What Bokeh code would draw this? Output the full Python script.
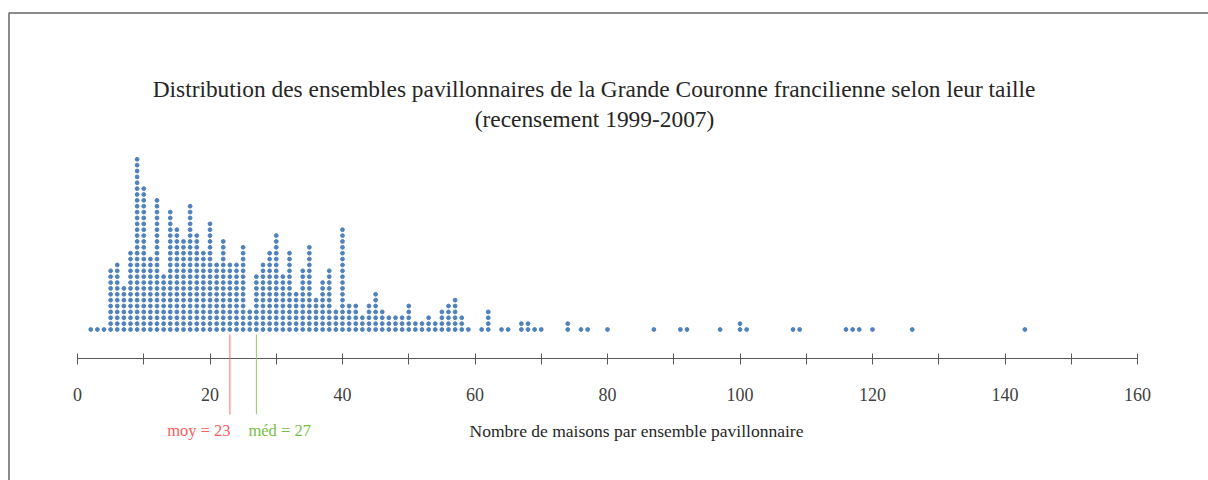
from bokeh.plotting import figure
from bokeh.models import Label, BoxAnnotation, Arrow, FixedTicker, Range1d, ColumnDataSource, LinearAxis
from bokeh.embed import file_html
from bokeh.resources import INLINE

# ---- data ----
sizes = [2, 3, 4, 5, 6, 7, 8, 9, 10, 11, 12, 13, 14, 15, 16,
         17, 18, 19, 20, 21, 22, 23, 24, 25, 26, 27, 28, 29, 30, 31, 32,
         33, 34, 35, 36, 37, 38, 39, 40, 41, 42, 43, 44, 45, 46, 47, 48,
         49, 50, 51, 52, 53, 54, 55, 56, 57, 58, 59, 61, 62,
         64, 65, 67, 68, 69, 70, 74, 76, 77, 80,
         87, 91, 92, 97, 100, 101, 108, 109, 116, 117, 118, 120, 126, 143]
counts = [1, 1, 1, 11, 12, 8, 14, 30, 25, 13, 23, 10, 21, 18, 16,
          22, 17, 14, 19, 12, 16, 12, 12, 15, 4, 10, 12, 14, 17, 10, 14,
          7, 11, 15, 6, 9, 11, 4, 18, 5, 5, 3, 5, 7, 4, 3, 3,
          3, 5, 2, 2, 3, 2, 4, 5, 6, 3, 1, 1, 4,
          1, 1, 2, 2, 1, 1, 2, 1, 1, 1,
          1, 1, 1, 1, 2, 1, 1, 1, 1, 1, 1, 1, 1, 1]
mean_value = 23
median_value = 27
title_line1 = "Distribution des ensembles pavillonnaires de la Grande Couronne francilienne selon leur taille"
title_line2 = "(recensement 1999-2007)"
x_title = "Nombre de maisons par ensemble pavillonnaire"
tick_values = list(range(0, 161, 10))
tick_labels = {t: (str(t) if t % 20 == 0 else "") for t in tick_values}

# expand into stacked dots
xs, ys = [], []
for s, c in zip(sizes, counts):
    for k in range(c):
        xs.append(s)
        ys.append(k)
src = ColumnDataSource(dict(x=xs, y=ys))

W, H = 1208, 480
PX_PER_UNIT = 6.625   # horizontal pixels per house
X0_PX = 77.0          # pixel of value 0
ROW_PX = 5.87         # vertical pixels per stacked dot
BASE_PX = 329.0       # pixel of first dot row
AXIS_PX = 358.0

def xd(xpx):
    return (xpx - X0_PX) / PX_PER_UNIT

def row(ypx):
    return (BASE_PX - ypx) / ROW_PX

SERIF = "Liberation Serif"

p = figure(width=W, height=H, x_range=Range1d(xd(0), xd(W)), y_range=Range1d(row(H), row(0)),
           output_backend="svg", toolbar_location=None,
           x_axis_location=None, y_axis_location=None,
           min_border_left=0, min_border_right=0, min_border_top=0, min_border_bottom=0)
p.outline_line_color = None
p.xgrid.visible = False
p.ygrid.visible = False

ax = LinearAxis(fixed_location=row(AXIS_PX))
ax.ticker = FixedTicker(ticks=tick_values)
ax.major_label_overrides = tick_labels
ax.bounds = (0, 160)
ax.axis_line_color = "#595959"
ax.major_tick_line_color = "#595959"
ax.major_tick_in = 5
ax.major_tick_out = 6
ax.minor_tick_line_color = None
ax.major_label_text_font = SERIF
ax.major_label_text_font_size = "18px"
ax.major_label_text_color = "#404040"
ax.major_label_standoff = 23
p.add_layout(ax, "below")

p.scatter("x", "y", source=src, size=3.8, color="#4F81BD", line_color="#4F81BD")

# mean / median markers
p.add_layout(Arrow(end=None, x_start=mean_value, y_start=row(334), x_end=mean_value, y_end=row(414),
                   line_color="#FF6B6B", line_width=1))
p.add_layout(Arrow(end=None, x_start=median_value, y_start=row(334), x_end=median_value, y_end=row(414),
                   line_color="#8CCB5E", line_width=1))
p.add_layout(Label(x=mean_value + 0.1, y=row(430), text="moy = %d" % mean_value, text_align="right",
                   text_baseline="middle", text_font=SERIF, text_font_size="16.5px", text_color="#FF5B5B"))
p.add_layout(Label(x=median_value - 1.2, y=row(430), text="méd = %d" % median_value, text_align="left",
                   text_baseline="middle", text_font=SERIF, text_font_size="16.5px", text_color="#78BE46"))
p.add_layout(Label(x=xd(636), y=row(430), text=x_title, text_align="center",
                   text_baseline="middle", text_font=SERIF, text_font_size="17.5px", text_color="#262626"))

# title
p.add_layout(Label(x=xd(593.5), y=row(88), text=title_line1, text_align="center",
                   text_baseline="middle", text_font=SERIF, text_font_size="23.4px", text_color="#262626"))
p.add_layout(Label(x=xd(594), y=row(118), text=title_line2, text_align="center",
                   text_baseline="middle", text_font=SERIF, text_font_size="23.4px", text_color="#262626"))

# border (top and left edges)
p.add_layout(BoxAnnotation(left=xd(8.5), right=xd(W + 20), top=row(12.5), bottom=row(H + 20),
                           fill_alpha=0, line_color="#666666", line_alpha=1.0, line_width=1.5))

open("out.html", "w").write(file_html(p, INLINE))
